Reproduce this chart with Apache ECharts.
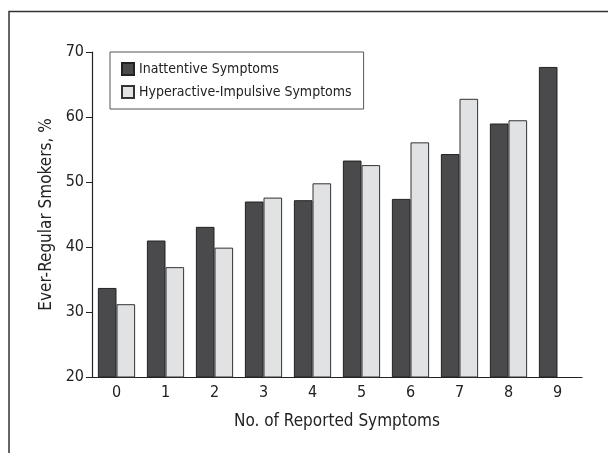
<!DOCTYPE html>
<html>
<head>
<meta charset="utf-8">
<script src="https://cdn.jsdelivr.net/npm/echarts@6/dist/echarts.min.js"></script>
<style>
html,body{margin:0;padding:0;background:#fff;}
#c{width:608px;height:453px;}
</style>
</head>
<body>
<div id="c"></div>
<script>
var categories = ['0','1','2','3','4','5','6','7','8','9'];
var inattentive = [33.7, 41.0, 43.1, 47.0, 47.2, 53.3, 47.4, 54.3, 59.0, 67.7];
var hyperactive = [31.2, 36.9, 39.9, 47.6, 49.8, 52.6, 56.1, 62.8, 59.5, null];
var yTicks = [20, 30, 40, 50, 60, 70];

var FONT = '"Liberation Sans Narrow", "DejaVu Sans Condensed", "Arial Narrow", sans-serif';
var chart = echarts.init(document.getElementById('c'), null, {renderer: 'canvas'});
chart.setOption({
  backgroundColor: '#fff',
  animation: false,
  textStyle: {fontFamily: FONT, color: '#222'},
  graphic: [
    {type: 'polyline', shape: {points: [[9, 453], [9, 11.5], [608, 11.5]]},
     style: {stroke: '#333', lineWidth: 1.5, fill: null}, silent: true}
  ],
  legend: {
    orient: 'vertical',
    left: 110, top: 52,
    padding: [10, 12, 10, 11],
    itemGap: 9,
    itemWidth: 12, itemHeight: 12,
    icon: 'rect',
    borderColor: '#555', borderWidth: 1,
    backgroundColor: '#fff',
    textStyle: {fontFamily: FONT, fontSize: 14, color: '#222'},
    data: ['Inattentive Symptoms', 'Hyperactive-Impulsive Symptoms']
  },
  grid: {left: 92, right: 26, top: 52, bottom: 76},
  xAxis: {
    type: 'category',
    data: categories,
    axisLine: {lineStyle: {color: '#222', width: 1.2}},
    axisTick: {show: false},
    axisLabel: {fontFamily: FONT, fontSize: 16, color: '#222', margin: 8},
    name: 'No. of Reported Symptoms',
    nameLocation: 'middle',
    nameGap: 36,
    nameTextStyle: {fontFamily: FONT, fontSize: 17, color: '#222'}
  },
  yAxis: {
    type: 'value',
    min: yTicks[0], max: yTicks[yTicks.length - 1], interval: 10,
    axisLine: {show: true, lineStyle: {color: '#222', width: 1.2}},
    axisTick: {show: true, length: 6, lineStyle: {color: '#222'}},
    splitLine: {show: false},
    axisLabel: {fontFamily: FONT, fontSize: 16, color: '#222', margin: 8},
    name: 'Ever-Regular Smokers, %',
    nameLocation: 'middle',
    nameGap: 35,
    nameTextStyle: {fontFamily: FONT, fontSize: 17, color: '#222'}
  },
  series: [
    {name: 'Inattentive Symptoms', type: 'bar', data: inattentive,
     barGap: '0%', barCategoryGap: '24%',
     itemStyle: {color: '#4a4a4c', borderColor: '#222', borderWidth: 1}},
    {name: 'Hyperactive-Impulsive Symptoms', type: 'bar', data: hyperactive,
     barGap: '0%', barCategoryGap: '24%',
     itemStyle: {color: '#e1e2e4', borderColor: '#333', borderWidth: 1}}
  ]
});
</script>
</body>
</html>
